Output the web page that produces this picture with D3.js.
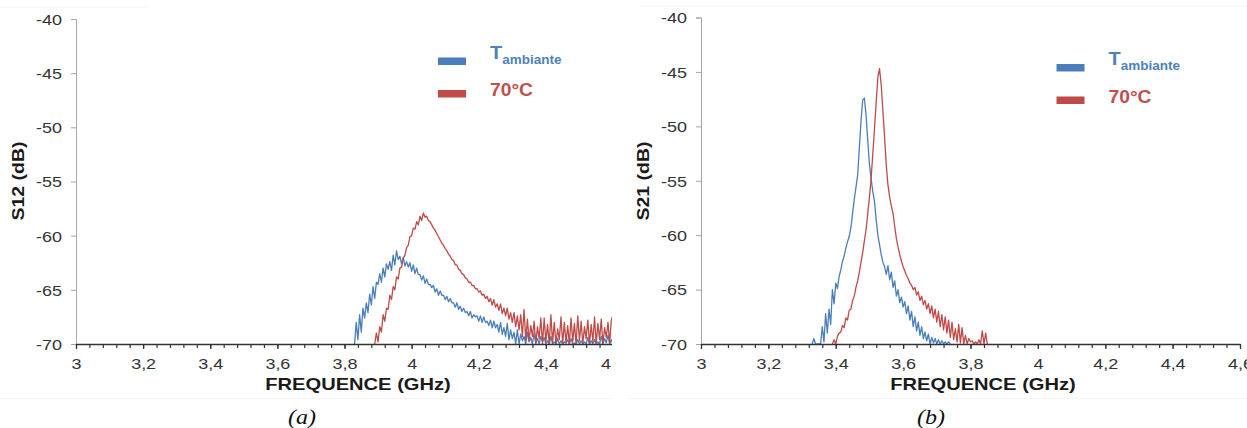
<!DOCTYPE html>
<html>
<head>
<meta charset="utf-8">
<script src="https://cdn.jsdelivr.net/npm/d3@7"></script>
<style>
  html, body { margin: 0; padding: 0; background: #ffffff; }
  svg { display: block; }
</style>
</head>
<body>
<svg id="chart" width="1247" height="428"></svg>
<script>
// ---------------- DATA ----------------
const freqTicks = [3, 3.2, 3.4, 3.6, 3.8, 4, 4.2, 4.4, 4.6];
const freqMinorTicks = [3, 3.04, 3.08, 3.12, 3.16, 3.2, 3.24, 3.28, 3.32, 3.36, 3.4, 3.44, 3.48, 3.52, 3.56, 3.6,
  3.64, 3.68, 3.72, 3.76, 3.8, 3.84, 3.88, 3.92, 3.96, 4, 4.04, 4.08, 4.12, 4.16, 4.2, 4.24, 4.28, 4.32, 4.36, 4.4,
  4.44, 4.48, 4.52, 4.56, 4.6];
const dbTicks = [-70, -65, -60, -55, -50, -45, -40];
const freqStep = 0.005; // GHz between samples

// (a) S12 — T ambiante, samples from 3.830 GHz
const s12AmbStart = 3.830;
const s12Amb = [
  -70, -68.0, -69.6, -67.3, -68.9, -66.7, -67.6, -66.2, -67.1, -65.4, -66.4, -64.7, -65.8, -64.3, -64.5, -63.5,
  -64.3, -63.0, -63.8, -62.6, -63.1, -62.4, -63.2, -61.8, -62.7, -61.4, -62.2, -61.9, -62.6, -62.0, -62.8, -62.4,
  -62.9, -62.5, -63.3, -62.7, -63.5, -63.0, -63.6, -63.6, -64.1, -63.7, -64.4, -64.0, -64.5, -64.5, -64.8, -64.6,
  -65.2, -64.9, -65.5, -65.1, -65.5, -65.5, -65.9, -65.6, -66.1, -65.8, -66.2, -66.2, -66.6, -66.2, -66.8, -66.5,
  -67.0, -66.7, -67.1, -67.0, -67.4, -67.0, -67.6, -67.3, -67.5, -67.4, -67.9, -67.4, -68.0, -67.5, -68.0, -67.9,
  -68.3, -67.8, -68.5, -67.9, -68.5, -68.2, -68.9, -68.0, -69.1, -68.5, -69.3, -68.1, -69.6, -68.7, -69.5, -68.9,
  -70, -68.7, -70, -69.1, -69.7, -69.3, -70, -68.9, -69.8, -69.4, -70, -69.0, -69.9, -69.5, -70, -69.3,
  -69.8, -69.4, -70, -69.7, -70, -69.3, -70, -69.8, -70, -69.5, -70, -69.7, -70, -69.8, -69.9, -69.6,
  -70, -69.5, -70, -69.9, -70, -69.6, -70, -69.7, -70, -69.8, -70, -69.4, -70, -69.7, -70, -69.6,
  -70, -69.8, -70, -69.3, -70, -69.5, -69.9, -69.2, -70, -69.6, -70
];
// (a) S12 — 70°C, samples from 3.890 GHz
const s12HotStart = 3.890;
const s12Hot = [
  -70, -69.0, -69.8, -68.4, -68.9, -67.3, -67.9, -66.7, -66.8, -65.5, -65.9, -64.7, -65.0, -63.8, -64.0, -63.0,
  -62.9, -62.1, -61.8, -61.1, -60.9, -60.1, -60.0, -59.3, -59.4, -58.7, -59.0, -58.2, -58.6, -57.9, -58.3, -58.2,
  -58.6, -58.7, -59.0, -59.3, -59.5, -59.8, -60.1, -60.4, -60.7, -60.9, -61.2, -61.4, -61.7, -61.9, -62.2, -62.3,
  -62.7, -62.7, -63.1, -63.2, -63.5, -63.6, -63.9, -64.0, -64.3, -64.3, -64.6, -64.6, -64.9, -64.9, -65.2, -65.1,
  -65.5, -65.4, -65.8, -65.6, -66.1, -65.8, -66.4, -65.9, -66.6, -66.3, -66.9, -66.3, -67.2, -66.7, -67.4, -66.7,
  -67.7, -67.1, -68.0, -67.1, -68.4, -67.4, -68.7, -67.3, -69.3, -66.8, -69.6, -67.7, -69.7, -68.3, -69.3, -67.9,
  -70, -68.4, -69.5, -67.6, -70, -67.6, -69.8, -68.2, -70, -67.3, -69.9, -68.0, -70, -68.6, -69.6, -67.5,
  -70, -68.0, -69.9, -68.3, -70, -67.6, -69.8, -68.1, -70, -67.4, -69.7, -67.9, -70, -68.4, -69.5, -67.8,
  -70, -68.2, -69.8, -67.5, -70, -68.1, -69.6, -67.7, -70, -68.5, -69.4, -68.0, -69.9, -67.8, -67.3
];
// (b) S21 — T ambiante, samples from 3.330 GHz
const s21AmbStart = 3.330;
const s21Amb = [
  -70, -69.5, -70, -70, -70, -70, -68.4, -69.8, -67.2, -69.0, -66.8, -68.2, -65.0, -66.3, -64.4, -64.9,
  -63.8, -63.2, -62.4, -61.9, -61.2, -60.6, -60.1, -59.3, -58.0, -56.7, -55.6, -54.5, -52.0, -49.5, -47.6, -47.4,
  -49.0, -51.3, -53.5, -54.8, -56.0, -56.9, -58.6, -60.0, -60.9, -61.8, -62.5, -62.9, -63.6, -62.8, -64.1, -63.4,
  -64.8, -64.2, -65.6, -65.0, -66.2, -65.7, -66.6, -66.1, -67.2, -66.5, -67.8, -67.0, -68.4, -67.5, -68.8, -68.0,
  -69.2, -68.4, -69.5, -68.9, -69.7, -69.1, -70, -69.4, -69.9, -69.5, -70, -69.6, -70, -69.7, -70, -69.8,
  -70, -69.8, -70
];
// (b) S21 — 70°C, samples from 3.390 GHz
const s21HotStart = 3.390;
const s21Hot = [
  -70, -69.6, -70, -69.3, -69.0, -68.9, -68.3, -68.5, -67.6, -67.8, -66.9, -66.8, -66.0, -65.6, -64.8, -64.2,
  -63.4, -62.5, -61.6, -60.5, -59.5, -58.0, -56.5, -54.8, -52.5, -50.2, -47.8, -45.5, -44.7, -46.2, -48.6, -51.0,
  -53.6, -55.4, -56.5, -57.3, -58.0, -59.2, -60.3, -61.1, -61.8, -62.4, -62.9, -63.3, -63.7, -64.0, -64.4, -64.6,
  -65.0, -64.8, -65.5, -65.2, -66.0, -65.6, -66.4, -66.0, -66.8, -66.3, -67.2, -66.5, -67.6, -66.8, -68.0, -67.0,
  -68.4, -67.3, -68.7, -67.5, -69.0, -67.8, -69.4, -68.0, -69.6, -68.6, -69.8, -68.2, -69.9, -68.5, -70, -69.2,
  -70, -69.5, -69.8, -69.7, -70, -69.8, -70, -69.6, -70, -68.8, -70, -69.0, -70
];

const legendLabels = ["T", "ambiante", "70°C"];
const yTitles = ["S12 (dB)", "S21 (dB)"];
const xTitle = "FREQUENCE (GHz)";
const captions = ["(a)", "(b)"];

// ---------------- STYLE ----------------
const blueLine = "#4A7EBB", redLine = "#BE4B48";
const blueText = "#4F81BD", redText = "#C0504D";
const sx = 1.2; // horizontal widening of the original text rendering

const svg = d3.select("#chart");

// faint frame lines from the original figure composition
svg.append("line").attr("x1", 0).attr("x2", 148).attr("y1", 7).attr("y2", 7).attr("stroke", "#f5f5f5");
svg.append("line").attr("x1", 640).attr("x2", 1247).attr("y1", 6).attr("y2", 6).attr("stroke", "#f5f5f5");
svg.append("line").attr("x1", 0).attr("x2", 613).attr("y1", 398.5).attr("y2", 398.5).attr("stroke", "#f5f5f5");
svg.append("line").attr("x1", 627).attr("x2", 1247).attr("y1", 398.5).attr("y2", 398.5).attr("stroke", "#f5f5f5");

function toPoints(start, values) {
  return values.map((v, i) => [start + i * freqStep, v]);
}

function drawPanel(cfg) {
  const clipId = "clip" + cfg.id;
  svg.append("clipPath").attr("id", clipId)
    .append("rect").attr("x", 0).attr("y", 0).attr("width", cfg.clipRight).attr("height", 428);
  const g = svg.append("g").attr("clip-path", `url(#${clipId})`);

  const x = d3.scaleLinear().domain([3, 4.6]).range([cfg.x0, cfg.x1]);
  const y = d3.scaleLinear().domain([-70, -40]).range([cfg.yBottom, cfg.yTop]);

  // Y axis (grey)
  const yAx = g.append("g").attr("transform", `translate(${cfg.x0},0)`)
    .call(d3.axisLeft(y).tickValues(dbTicks).tickSize(5).tickPadding(0).tickFormat(d => String(d)));
  yAx.select(".domain").attr("stroke", "#a6a6a6").attr("stroke-width", 1);
  yAx.selectAll(".tick line").attr("stroke", "#a6a6a6");
  yAx.selectAll(".tick text")
    .attr("x", 0).attr("dy", "0.36em")
    .attr("transform", `translate(-14,0) scale(${sx},1)`)
    .attr("font-family", "'Liberation Sans', Arial, sans-serif")
    .attr("font-size", 15).attr("fill", "#333");

  // plot lines
  const line = d3.line().x(d => x(d[0])).y(d => y(Math.max(-70, d[1])));
  const plotClip = "pclip" + cfg.id;
  svg.append("clipPath").attr("id", plotClip)
    .append("rect").attr("x", cfg.x0).attr("y", cfg.yTop - 5).attr("width", cfg.x1 - cfg.x0)
    .attr("height", cfg.yBottom - cfg.yTop + 6);
  const lg = g.append("g").attr("clip-path", `url(#${plotClip})`);
  lg.append("path").datum(toPoints(cfg.ambStart, cfg.amb))
    .attr("d", line).attr("fill", "none").attr("stroke", blueLine).attr("stroke-width", 1.3)
    .attr("stroke-linejoin", "round");
  lg.append("path").datum(toPoints(cfg.hotStart, cfg.hot))
    .attr("d", line).attr("fill", "none").attr("stroke", redLine).attr("stroke-width", 1.3)
    .attr("stroke-linejoin", "round");

  // X axis: minor ticks
  const xMinor = g.append("g").attr("transform", `translate(0,${cfg.yBottom})`)
    .call(d3.axisBottom(x).tickValues(freqMinorTicks).tickSize(4).tickFormat(""));
  xMinor.select(".domain").remove();
  xMinor.selectAll(".tick line").attr("stroke", "#333").attr("stroke-width", 1.2);
  // X axis: major ticks + labels
  const xAx = g.append("g").attr("transform", `translate(0,${cfg.yBottom})`)
    .call(d3.axisBottom(x).tickValues(freqTicks).tickSize(5).tickSizeOuter(0).tickPadding(0)
      .tickFormat(d => String(d).replace(".", ",")));
  xAx.select(".domain").attr("stroke", "#333").attr("stroke-width", 1.6);
  xAx.selectAll(".tick line").attr("stroke", "#333").attr("stroke-width", 1.2);
  xAx.selectAll(".tick text")
    .attr("y", 0).attr("dy", 0)
    .attr("transform", `translate(0,25) scale(${sx},1)`)
    .attr("font-family", "'Liberation Sans', Arial, sans-serif")
    .attr("font-size", 15).attr("fill", "#333");

  // axis titles
  g.append("text")
    .attr("transform", `translate(${(cfg.x0 + 282)},389.5) scale(1.22,1)`)
    .attr("text-anchor", "middle")
    .attr("font-family", "'Liberation Sans', Arial, sans-serif").attr("font-weight", "bold")
    .attr("font-size", 16.5).attr("fill", "#1a1a1a")
    .text(xTitle);
  g.append("text")
    .attr("transform", `translate(${cfg.x0 - 52},181) rotate(-90) scale(1.18,1)`)
    .attr("text-anchor", "middle")
    .attr("font-family", "'Liberation Sans', Arial, sans-serif").attr("font-weight", "bold")
    .attr("font-size", 16.5).attr("fill", "#1a1a1a")
    .text(cfg.yTitle);

  // legend
  const lx = cfg.legendX, ly = cfg.legendY;
  g.append("rect").attr("x", lx).attr("y", ly).attr("width", 28).attr("height", 7.5).attr("fill", blueLine);
  g.append("rect").attr("x", lx).attr("y", ly + 32.5).attr("width", 28).attr("height", 7.5).attr("fill", redLine);
  const t1 = g.append("text")
    .attr("transform", `translate(${lx + 52},${ly + 1}) scale(1.08,1)`)
    .attr("font-family", "'Liberation Sans', Arial, sans-serif").attr("font-weight", "bold")
    .attr("fill", blueText);
  t1.append("tspan").attr("font-size", 18.5).text(legendLabels[0]);
  t1.append("tspan").attr("font-size", 12.5).attr("dy", 5).text(legendLabels[1]);
  g.append("text")
    .attr("transform", `translate(${lx + 52},${ly + 38.5}) scale(1.1,1)`)
    .attr("font-family", "'Liberation Sans', Arial, sans-serif").attr("font-weight", "bold")
    .attr("font-size", 17.5).attr("fill", redText)
    .text(legendLabels[2]);

  // caption
  svg.append("text")
    .attr("transform", `translate(${cfg.captionX},424) scale(1.2,1)`)
    .attr("text-anchor", "middle")
    .attr("font-family", "'Liberation Serif', 'Times New Roman', serif").attr("font-style", "italic")
    .attr("font-size", 20).attr("fill", "#111")
    .text(cfg.caption);
}

drawPanel({
  id: "a", x0: 76, x1: 613, yTop: 19, yBottom: 344, clipRight: 612,
  ambStart: s12AmbStart, amb: s12Amb, hotStart: s12HotStart, hot: s12Hot,
  yTitle: yTitles[0], legendX: 438, legendY: 57.5, caption: captions[0], captionX: 302
});
drawPanel({
  id: "b", x0: 701, x1: 1240, yTop: 17.5, yBottom: 344, clipRight: 1247,
  ambStart: s21AmbStart, amb: s21Amb, hotStart: s21HotStart, hot: s21Hot,
  yTitle: yTitles[1], legendX: 1056.5, legendY: 64, caption: captions[1], captionX: 931
});
</script>
</body>
</html>
